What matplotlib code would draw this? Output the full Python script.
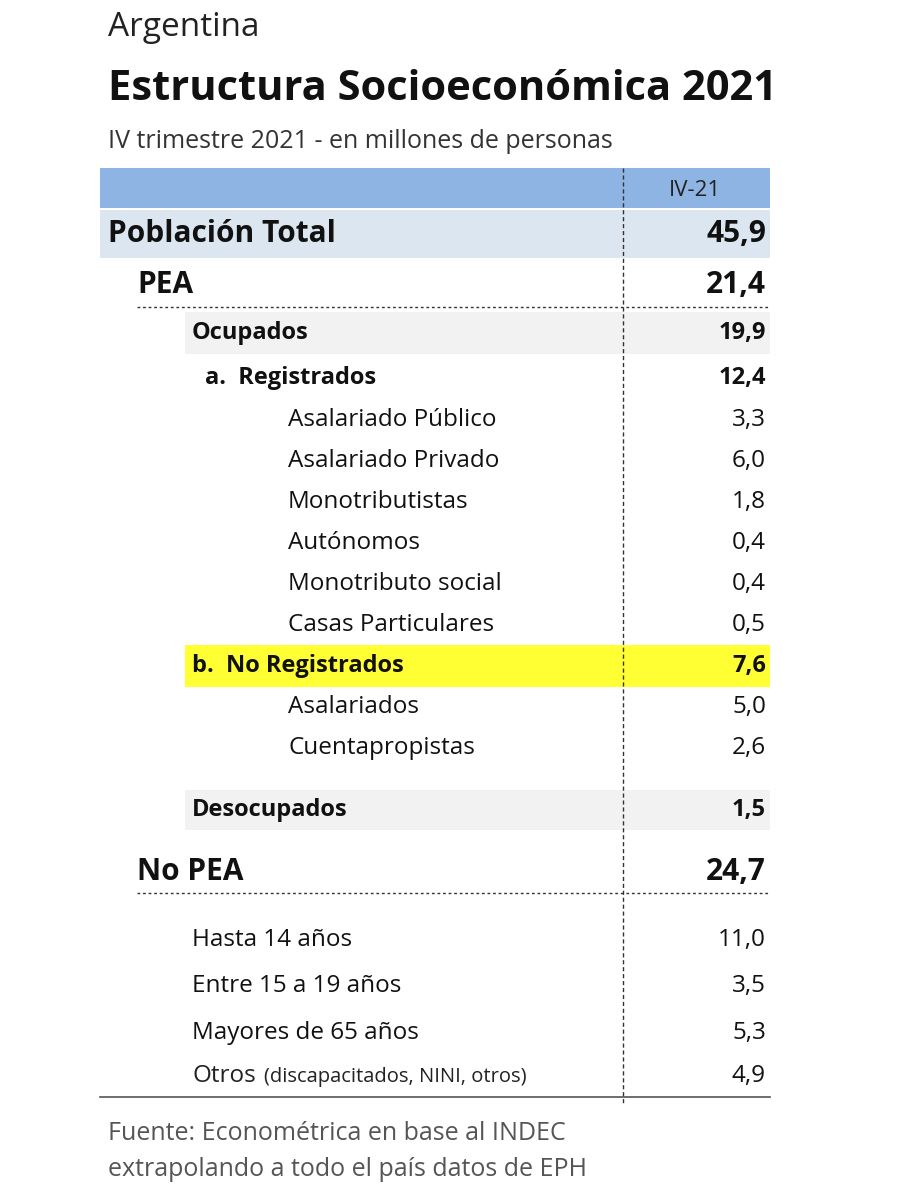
import matplotlib
matplotlib.use("Agg")
import matplotlib.pyplot as plt
from matplotlib.patches import Rectangle

plt.rcParams['font.family'] = ['Open Sans', 'DejaVu Sans']

labels = ["Población Total", "PEA", "Ocupados", "a.  Registrados",
          "Asalariado Público", "Asalariado Privado", "Monotributistas", "Autónomos",
          "Monotributo social", "Casas Particulares", "b.  No Registrados",
          "Asalariados", "Cuentapropistas", "Desocupados", "No PEA",
          "Hasta 14 años", "Entre 15 a 19 años", "Mayores de 65 años", "Otros"]
values = [45.9, 21.4, 19.9, 12.4, 3.3, 6.0, 1.8, 0.4, 0.4, 0.5, 7.6, 5.0, 2.6, 1.5, 24.7,
          11.0, 3.5, 5.3, 4.9]
rows_y = [234, 285, 333, 378, 420, 461, 502, 543, 584, 625, 666, 707, 748, 810, 872,
          940, 986, 1033, 1076]
rows_x = [108, 137, 192, 205] + [288]*6 + [192] + [288]*2 + [192, 137] + [192]*4
rows_fs = [21.5, 21.5, 17, 17] + [17.5]*6 + [17] + [17.5]*2 + [17, 21.5] + [17.5]*4
rows_bold = [1, 1, 1, 1] + [0]*6 + [1] + [0]*2 + [1, 1] + [0]*4
bgs = {0: ("#DCE6F1", 100, 210, 258), 2: ("#F2F2F2", 185, 312, 354),
       10: ("#FFFF33", 185, 645, 687), 13: ("#F2F2F2", 185, 790, 830)}

fig = plt.figure(figsize=(9, 12), dpi=100)
ax = fig.add_axes([0, 0, 1, 1])
ax.set_xlim(0, 900); ax.set_ylim(1200, 0); ax.axis('off')

ax.text(108, 28, "Argentina", fontsize=24, va='center', color='#222222')
ax.text(108, 90, "Estructura Socioeconómica 2021", fontsize=30, weight='bold', va='center', color='#111111')
ax.text(108, 141, "IV trimestre 2021 - en millones de personas", fontsize=18, va='center', color='#333333')

ax.add_patch(Rectangle((100, 168), 670, 40, color='#8DB4E2', lw=0))
ax.text(695, 190, "IV-21", fontsize=16, ha='center', va='center', color='#222222')

for i, (c, x0, y0, y1) in bgs.items():
    ax.add_patch(Rectangle((x0, y0), 770 - x0, y1 - y0, color=c, lw=0))

for i, lab in enumerate(labels):
    w = 'bold' if rows_bold[i] else 'normal'
    if lab == "Otros":
        ax.text(rows_x[i], rows_y[i], "Otros", fontsize=rows_fs[i], va='center', color='#222222')
        ax.text(rows_x[i] + 72, rows_y[i] + 1, "(discapacitados, NINI, otros)", fontsize=14.5,
                va='center', color='#222222')
    else:
        ax.text(rows_x[i], rows_y[i], lab, fontsize=rows_fs[i], weight=w, va='center', color='#111111')
    ax.text(766, rows_y[i], f"{values[i]:.1f}".replace('.', ','), fontsize=rows_fs[i],
            weight=w, ha='right', va='center', color='#111111')

ax.plot([137, 770], [307, 307], ls=(0, (2, 2)), color='#333333', lw=1)
ax.plot([137, 770], [893, 893], ls=(0, (2, 2)), color='#333333', lw=1)
ax.plot([100, 770], [1097, 1097], color='#555555', lw=1.2)
ax.plot([623, 623], [168, 1105], ls=(0, (3, 2)), color='#333333', lw=1)

ax.text(108, 1133, "Fuente: Econométrica en base al INDEC", fontsize=18, va='center', color='#555555')
ax.text(108, 1170, "extrapolando a todo el país datos de EPH", fontsize=18, va='center', color='#555555')

fig.savefig("out.png", dpi=100, facecolor='white')
